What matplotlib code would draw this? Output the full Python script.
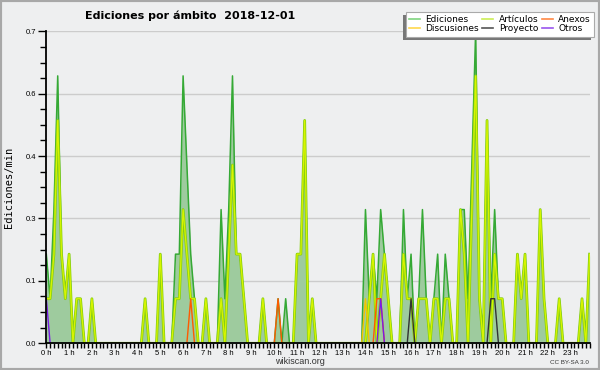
"""Edits per 10-minute slot by namespace, wikiscan style area chart."""

import matplotlib as mpl
mpl.use("Agg")
import matplotlib.pyplot as plt
import matplotlib.patheffects as pe
from matplotlib.lines import Line2D
from matplotlib.patches import Rectangle
from matplotlib.transforms import IdentityTransform
import numpy as np

# edits per 10 min slot (144 slots, 00:00 .. 23:50); plotted as edits/min
EDICIONES = [
    2, 1, 3, 6, 2, 1, 2, 0, 1, 1, 0, 0,
    1, 0, 0, 0, 0, 0, 0, 0, 0, 0, 0, 0,
    0, 0, 1, 0, 0, 0, 2, 0, 0, 0, 2, 2,
    6, 4, 2, 1, 0, 0, 1, 0, 0, 0, 3, 1,
    3, 6, 2, 2, 1, 0, 0, 0, 0, 1, 0, 0,
    0, 1, 0, 1, 0, 0, 2, 2, 5, 0, 1, 0,
    0, 0, 0, 0, 0, 0, 0, 0, 0, 0, 0, 0,
    3, 1, 2, 1, 3, 2, 1, 0, 0, 0, 3, 1,
    2, 0, 1, 3, 1, 0, 1, 2, 0, 2, 1, 0,
    0, 3, 3, 1, 4, 7, 1, 0, 5, 1, 3, 1,
    1, 0, 0, 0, 2, 1, 2, 0, 0, 0, 3, 1,
    0, 0, 0, 1, 0, 0, 0, 0, 0, 1, 0, 2,
]
ARTICULOS = [
    1, 1, 2, 5, 2, 1, 2, 0, 1, 1, 0, 0,
    1, 0, 0, 0, 0, 0, 0, 0, 0, 0, 0, 0,
    0, 0, 1, 0, 0, 0, 2, 0, 0, 0, 1, 1,
    3, 2, 1, 1, 0, 0, 1, 0, 0, 0, 1, 0,
    2, 4, 2, 2, 1, 0, 0, 0, 0, 1, 0, 0,
    0, 0, 0, 0, 0, 0, 2, 2, 5, 0, 1, 0,
    0, 0, 0, 0, 0, 0, 0, 0, 0, 0, 0, 0,
    0, 1, 2, 0, 1, 2, 1, 0, 0, 0, 2, 1,
    1, 0, 1, 1, 1, 0, 1, 1, 0, 1, 1, 0,
    0, 3, 2, 0, 3, 6, 1, 0, 5, 0, 2, 1,
    1, 0, 0, 0, 2, 1, 2, 0, 0, 0, 3, 1,
    0, 0, 0, 1, 0, 0, 0, 0, 0, 1, 0, 2,
]
DISCUSIONES = {84: 1}
ANEXOS = {38: 1, 61: 1, 87: 1, 88: 1}
PROYECTO = {96: 1, 117: 1, 118: 1}
OTROS = {0: 1, 88: 1}

HOUR_LABELS = [f"{h} h" for h in range(24)]
Y_TICKS = [0.0, 0.14, 0.28, 0.42, 0.56, 0.7]

BG = "#eeeff0"


def sparse_series(values: dict[int, int]) -> np.ndarray:
    series = np.zeros(len(EDICIONES))
    for slot, count in values.items():
        series[slot] = count / 10.0
    return series


def main() -> None:
    hours = np.arange(len(EDICIONES)) / 6.0
    total = np.array(EDICIONES) / 10.0
    articulos = np.array(ARTICULOS) / 10.0

    fig = plt.figure(figsize=(6.0, 3.7), dpi=100, facecolor=BG)
    fig.patches.append(
        Rectangle((0, 0), 1, 1, transform=fig.transFigure, fill=False,
                  edgecolor="#a8a8a8", linewidth=3, zorder=0)
    )
    ax = fig.add_axes([0.0772, 0.0722, 0.9055, 0.8432], facecolor=BG)

    ax.fill_between(hours, 0, total, color="#9ecb9e", linewidth=0, zorder=2)
    ax.plot(hours, total, color="#35a935", linewidth=1.1, zorder=3)
    ax.plot(
        hours, articulos, color="#d8f500", linewidth=0.9, zorder=4,
        path_effects=[pe.Stroke(linewidth=2.0, foreground="#86cf10"), pe.Normal()],
    )
    extra = [
        (DISCUSIONES, "#f2c400"),
        (ANEXOS, "#ff5a00"),
        (PROYECTO, "#333333"),
        (OTROS, "#7a1ae8"),
    ]
    for values, color in extra:
        series = sparse_series(values)
        masked = np.where(
            (series > 0) | (np.roll(series, 1) > 0) | (np.roll(series, -1) > 0),
            series, np.nan,
        )
        ax.plot(hours, masked, color=color, linewidth=1.0, zorder=5)

    ax.set_xlim(0, hours[-1])
    ax.set_ylim(0, 0.7)
    ax.set_yticks(Y_TICKS)
    ax.set_yticklabels([f"{v:.1f}" for v in Y_TICKS])
    ax.set_yticks(np.arange(0, 0.7001, 0.035), minor=True)
    ax.set_xticks(range(24))
    ax.set_xticklabels(HOUR_LABELS)
    ax.set_xticks(np.arange(0, hours[-1] + 0.01, 1 / 6), minor=True)
    ax.grid(axis="y", color="#cccccc", linewidth=1.0, zorder=1)
    ax.set_axisbelow(True)
    for side in ("top", "right"):
        ax.spines[side].set_visible(False)
    for side in ("left", "bottom"):
        ax.spines[side].set_linewidth(1.3)
        ax.spines[side].set_zorder(10)
    ax.tick_params(axis="both", which="both", labelsize=5.5, width=1.0, pad=1.5)
    ax.tick_params(axis="y", which="major", length=6)
    ax.tick_params(axis="y", which="minor", length=4)
    ax.tick_params(axis="x", which="both", length=3.5)
    for label in ax.get_xticklabels() + ax.get_yticklabels():
        label.set_fontfamily("Liberation Sans")

    ax.set_ylabel("Ediciones/min", fontsize=7.5, family="DejaVu Sans Mono", labelpad=8)
    fig.text(0.142, 0.958, "Ediciones por ámbito  2018-12-01", fontsize=8,
             fontweight="bold", family="DejaVu Sans", ha="left", va="center")
    fig.text(0.5, 0.022, "wikiscan.org", fontsize=6.5, family="Liberation Sans",
             color="#333333", ha="center", va="center")
    fig.text(0.982, 0.02, "CC BY-SA 3.0", fontsize=4.5, family="Liberation Sans",
             color="#333333", ha="right", va="center")

    handles = [
        Line2D([0], [0], color="#7fd47f", lw=1.2, label="Ediciones"),
        Line2D([0], [0], color="#ffd84d", lw=1.2, label="Discusiones"),
        Line2D([0], [0], color="#ccee55", lw=1.2, label="Artículos"),
        Line2D([0], [0], color="#555555", lw=1.2, label="Proyecto"),
        Line2D([0], [0], color="#ff8844", lw=1.2, label="Anexos"),
        Line2D([0], [0], color="#9955ee", lw=1.2, label="Otros"),
    ]
    legend = fig.legend(
        handles=handles, loc="upper right", bbox_to_anchor=(0.99, 0.968),
        ncol=3, fontsize=6.5, frameon=True, fancybox=False, borderaxespad=0,
        handlelength=1.2, handletextpad=0.6, columnspacing=0.4,
        labelspacing=0.05, borderpad=0.35,
    )
    legend.get_frame().set_edgecolor("#aaaaaa")
    legend.get_frame().set_linewidth(0.8)
    legend.get_frame().set_facecolor("white")
    legend.get_frame().set_alpha(1)
    legend.set_zorder(6)

    fig.canvas.draw()
    box = legend.get_window_extent()
    fig.add_artist(Rectangle((box.x0 - 3, box.y0 - 3), box.width, box.height,
                             transform=IdentityTransform(), facecolor="#777777",
                             edgecolor="none", zorder=5))

    fig.savefig("out.png", dpi=100, facecolor=BG)
    plt.close(fig)


if __name__ == "__main__":
    main()
